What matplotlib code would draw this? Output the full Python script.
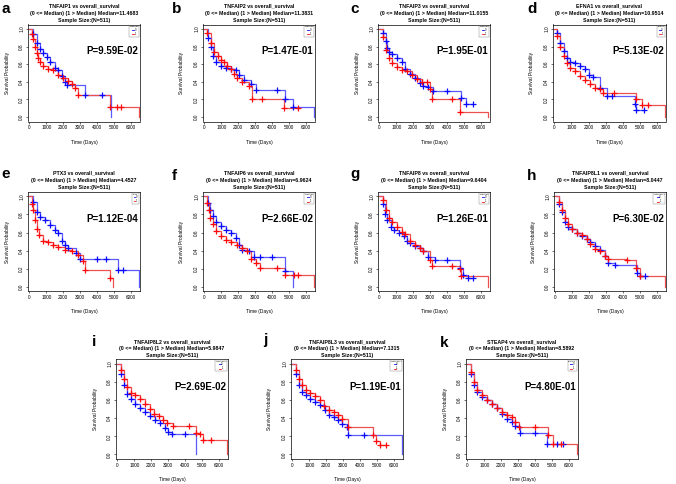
import matplotlib.pyplot as plt
from matplotlib.lines import Line2D

plt.rcParams['font.family'] = ['Liberation Sans', 'DejaVu Sans']

GENES = ['TNFAIP1', 'TNFAIP2', 'TNFAIP3', 'EFNA1', 'PTX3', 'TNFAIP6',
         'TNFAIP8', 'TNFAIP8L1', 'TNFAIP8L2', 'TNFAIP8L3', 'STEAP4']
MEDIANS = ['11.4683', '11.3831', '11.0155', '10.9514', '4.4527', '6.9624',
           '9.6404', '8.0447', '5.9847', '7.1315', '8.5892']
PVALS = ['9.59E-02', '1.47E-01', '1.95E-01', '5.13E-02', '1.12E-04', '2.66E-02',
         '1.26E-01', '6.30E-02', '2.69E-02', '1.19E-01', '4.80E-01']
LETTERS = ['a', 'b', 'c', 'd', 'e', 'f', 'g', 'h', 'i', 'j', 'k']

# group 0 (blue, <= median) and group 1 (red, > median): step times (days) / survival
A_T0 = [0, 235, 430, 630, 820, 1020, 1200, 1500, 1700, 1900, 2100, 2200, 3270, 4300, 4840]
A_S0 = [1.0, 0.94, 0.84, 0.77, 0.73, 0.68, 0.63, 0.56, 0.53, 0.47, 0.40, 0.36, 0.25, 0.25, 0.0]
A_T1 = [0, 140, 235, 330, 430, 530, 630, 820, 1100, 1400, 1700, 2000, 2300, 2500, 2700, 2880, 4750, 5200, 5400, 6470]
A_S1 = [1.0, 0.94, 0.88, 0.80, 0.73, 0.67, 0.63, 0.58, 0.54, 0.53, 0.48, 0.44, 0.41, 0.37, 0.33, 0.25, 0.12, 0.12, 0.12, 0.0]

B_T0 = [0, 200, 390, 500, 700, 975, 1270, 1560, 1850, 2050, 2340, 2730, 3020, 4300, 4775, 5225, 6470]
B_S0 = [1.0, 0.90, 0.79, 0.69, 0.62, 0.58, 0.56, 0.54, 0.53, 0.48, 0.42, 0.37, 0.31, 0.31, 0.20, 0.12, 0.0]
B_T1 = [0, 150, 390, 585, 780, 975, 1170, 1365, 1560, 1755, 1950, 2240, 2630, 2830, 3400, 4680, 5555]
B_S1 = [1.0, 0.95, 0.84, 0.74, 0.69, 0.65, 0.62, 0.58, 0.55, 0.49, 0.44, 0.40, 0.35, 0.21, 0.21, 0.10, 0.10]

C_T0 = [0, 190, 390, 480, 580, 770, 1060, 1350, 1540, 1830, 2120, 2410, 2600, 2900, 3190, 4000, 4830, 5120, 5500]
C_S0 = [1.0, 0.95, 0.86, 0.78, 0.74, 0.71, 0.67, 0.62, 0.55, 0.49, 0.44, 0.39, 0.35, 0.34, 0.30, 0.30, 0.22, 0.15, 0.15]
C_T1 = [0, 190, 390, 580, 770, 1060, 1350, 1640, 1930, 2220, 2510, 2800, 3000, 3090, 4300, 4730, 6430]
C_S1 = [1.0, 0.91, 0.76, 0.67, 0.61, 0.57, 0.53, 0.52, 0.48, 0.43, 0.40, 0.40, 0.32, 0.21, 0.21, 0.06, 0.0]

D_T0 = [0, 150, 350, 540, 730, 930, 1220, 1500, 1800, 2000, 2280, 2660, 3050, 3400, 4700, 4800, 5270]
D_S0 = [1.0, 0.95, 0.84, 0.75, 0.67, 0.63, 0.61, 0.58, 0.54, 0.48, 0.45, 0.33, 0.24, 0.24, 0.15, 0.08, 0.08]
D_T1 = [0, 150, 350, 540, 730, 930, 1220, 1500, 1800, 2080, 2370, 2660, 2860, 3500, 4800, 5100, 5500, 6470]
D_S1 = [1.0, 0.92, 0.80, 0.69, 0.61, 0.56, 0.52, 0.47, 0.42, 0.37, 0.33, 0.32, 0.27, 0.27, 0.20, 0.14, 0.14, 0.0]

E_T0 = [0, 235, 430, 630, 920, 1220, 1510, 1700, 1900, 2100, 2300, 2780, 2980, 4000, 4500, 5240, 5500, 6470]
E_S0 = [1.0, 0.94, 0.83, 0.77, 0.74, 0.68, 0.63, 0.60, 0.51, 0.46, 0.43, 0.37, 0.31, 0.31, 0.31, 0.18, 0.18, 0.0]
E_T1 = [0, 140, 235, 330, 430, 590, 820, 1120, 1410, 1700, 2100, 2490, 2880, 3180, 3270, 4750, 4940]
E_S1 = [1.0, 0.92, 0.85, 0.74, 0.64, 0.57, 0.51, 0.49, 0.46, 0.44, 0.41, 0.39, 0.35, 0.28, 0.18, 0.09, 0.0]

F_T0 = [0, 195, 350, 490, 680, 975, 1270, 1560, 1850, 2050, 2240, 2630, 2920, 3300, 4000, 4775, 5225]
F_S0 = [1.0, 0.93, 0.85, 0.78, 0.72, 0.67, 0.63, 0.60, 0.54, 0.46, 0.41, 0.39, 0.33, 0.33, 0.33, 0.17, 0.0]
F_T1 = [0, 155, 250, 350, 490, 680, 975, 1270, 1560, 1950, 2240, 2530, 2730, 3020, 3310, 4300, 4775, 5300, 5500, 6470]
F_S1 = [1.0, 0.93, 0.85, 0.76, 0.69, 0.62, 0.56, 0.52, 0.50, 0.46, 0.43, 0.39, 0.31, 0.26, 0.21, 0.21, 0.13, 0.13, 0.13, 0.0]

G_T0 = [0, 190, 350, 480, 680, 870, 1160, 1450, 1640, 1830, 2120, 2410, 2600, 2900, 3300, 4000, 4730, 4920, 5210, 5500]
G_S0 = [1.0, 0.92, 0.81, 0.74, 0.66, 0.63, 0.59, 0.56, 0.51, 0.48, 0.45, 0.43, 0.39, 0.33, 0.29, 0.29, 0.21, 0.13, 0.10, 0.10]
G_T1 = [0, 190, 390, 580, 770, 1060, 1350, 1540, 1830, 2120, 2410, 2600, 2990, 3090, 4300, 4730, 4830, 6430]
G_S1 = [1.0, 0.96, 0.85, 0.76, 0.72, 0.66, 0.61, 0.58, 0.51, 0.46, 0.43, 0.40, 0.29, 0.23, 0.23, 0.20, 0.12, 0.0]

H_T0 = [0, 190, 390, 580, 770, 970, 1260, 1550, 1840, 2030, 2330, 2620, 2910, 3100, 3500, 4830, 5020, 5310]
H_S0 = [1.0, 0.92, 0.83, 0.72, 0.66, 0.64, 0.60, 0.56, 0.53, 0.49, 0.45, 0.41, 0.34, 0.26, 0.24, 0.15, 0.12, 0.12]
H_T1 = [0, 190, 390, 580, 770, 970, 1260, 1550, 1840, 2030, 2330, 2620, 2910, 3100, 4200, 4730, 5020, 6450]
H_S1 = [1.0, 0.94, 0.85, 0.76, 0.70, 0.64, 0.60, 0.57, 0.53, 0.47, 0.42, 0.40, 0.34, 0.31, 0.29, 0.21, 0.12, 0.0]

I_T0 = [0, 195, 390, 580, 780, 1070, 1360, 1650, 1940, 2230, 2520, 2820, 3010, 3200, 4000, 4660]
I_S0 = [1.0, 0.89, 0.76, 0.66, 0.61, 0.55, 0.51, 0.47, 0.42, 0.38, 0.35, 0.29, 0.25, 0.22, 0.22, 0.0]
I_T1 = [0, 195, 390, 580, 780, 1070, 1360, 1650, 1940, 2140, 2430, 2720, 2910, 3300, 4250, 4660, 4850, 5050, 5500, 6470]
I_S1 = [1.0, 0.93, 0.83, 0.74, 0.68, 0.65, 0.61, 0.56, 0.50, 0.45, 0.42, 0.38, 0.35, 0.31, 0.31, 0.24, 0.22, 0.16, 0.16, 0.0]

J_T0 = [0, 195, 390, 580, 780, 1070, 1360, 1650, 1940, 2135, 2430, 2720, 2910, 3200, 3300, 4250, 6470]
J_S0 = [1.0, 0.89, 0.76, 0.69, 0.65, 0.61, 0.58, 0.54, 0.49, 0.43, 0.41, 0.38, 0.34, 0.30, 0.21, 0.21, 0.0]
J_T1 = [0, 195, 390, 580, 780, 1070, 1360, 1650, 1845, 2135, 2430, 2720, 2910, 3300, 4760, 4950, 5150, 5530]
J_S1 = [1.0, 0.93, 0.83, 0.76, 0.71, 0.68, 0.64, 0.60, 0.53, 0.49, 0.47, 0.43, 0.39, 0.30, 0.21, 0.15, 0.10, 0.10]

K_T0 = [0, 195, 390, 585, 877, 1170, 1460, 1755, 2045, 2340, 2630, 2830, 3120, 4000, 4680, 5300, 5650]
K_S0 = [1.0, 0.89, 0.76, 0.69, 0.63, 0.60, 0.55, 0.51, 0.44, 0.39, 0.36, 0.31, 0.24, 0.24, 0.12, 0.12, 0.12]
K_T1 = [0, 195, 390, 585, 877, 1170, 1460, 1755, 2045, 2340, 2630, 2830, 3020, 4000, 4775, 5070, 5500, 6470]
K_S1 = [1.0, 0.91, 0.80, 0.71, 0.65, 0.60, 0.56, 0.51, 0.47, 0.43, 0.41, 0.36, 0.30, 0.30, 0.21, 0.12, 0.12, 0.0]

CURVES = [(A_T0, A_S0, A_T1, A_S1), (B_T0, B_S0, B_T1, B_S1), (C_T0, C_S0, C_T1, C_S1),
          (D_T0, D_S0, D_T1, D_S1), (E_T0, E_S0, E_T1, E_S1), (F_T0, F_S0, F_T1, F_S1),
          (G_T0, G_S0, G_T1, G_S1), (H_T0, H_S0, H_T1, H_S1), (I_T0, I_S0, I_T1, I_S1),
          (J_T0, J_S0, J_T1, J_S1), (K_T0, K_S0, K_T1, K_S1)]

# layout in pixels: axes left, top, width, height
BOXES = [(28, 24.5, 112, 97), (203, 24.5, 112, 97), (378, 24.5, 112, 97), (553, 24.5, 113, 97),
         (28, 192, 112, 99), (203, 192, 112, 99), (378, 192, 112, 99), (554, 192, 112, 99),
         (116, 359, 112, 100), (291, 359, 112, 100), (466, 359, 112, 100)]
LETTER_POS = [(1, 13), (172, 13), (350, 13), (527, 13),
              (1, 178), (172, 180), (350, 178), (527, 180),
              (92, 346), (263, 344), (440, 347)]
TITLE_OFF = [-19, -11.5, -4]

BLUE = '#0a0aff'
RED = '#ff0a0a'
BLUE_LINE = '#5a5aff'
RED_LINE = '#ee5050'

W, H = 676, 484
fig = plt.figure(figsize=(W / 100, H / 100), dpi=100)


def ftext(x, y, s, **kw):
    fig.text(x / W, 1 - y / H, s, **kw)


def draw_curve(ax, t, s, lcolor, mcolor):
    ax.step(t, s, where='post', color=lcolor, lw=0.9, zorder=2)
    mt = [t[i] for i in range(1, len(t)) if s[i] > 0]
    ms = [s[i] for i in range(1, len(t)) if s[i] > 0]
    ax.plot(mt, ms, '+', color=mcolor, ms=4, mew=0.9, zorder=3)


for k in range(11):
    left, top, w, h = BOXES[k]
    ax = fig.add_axes([left / W, 1 - (top + h) / H, w / W, h / H])
    t0, s0, t1, s1 = CURVES[k]
    draw_curve(ax, t0, s0, BLUE_LINE, BLUE)
    draw_curve(ax, t1, s1, RED_LINE, RED)

    ax.set_xlim(-80, 6530)
    ax.set_ylim(-0.05, 1.05)
    ax.set_xticks(range(0, 7000, 1000))
    ax.set_xticklabels([str(v) for v in range(0, 7000, 1000)])
    ax.set_yticks([0, 0.2, 0.4, 0.6, 0.8, 1.0])
    ax.set_yticklabels(['0.0', '0.2', '0.4', '0.6', '0.8', '1.0'], rotation=90, va='center')
    ax.tick_params(labelsize=3.4, length=1.6, width=0.4, pad=1.2)
    for sp in ax.spines.values():
        sp.set_linewidth(0.5)

    ax.text(0.985, 0.745, 'P=' + PVALS[k], transform=ax.get_yaxis_transform(),
            ha='right', va='center', fontsize=7, fontweight='bold')

    handles = [Line2D([0], [0], color=BLUE, lw=0.6), Line2D([0], [0], color=RED, lw=0.6)]
    leg = ax.legend(handles, ['0', '1'], title=GENES[k], loc='upper right', fontsize=1.8,
                    title_fontsize=1.5, borderpad=0.3, handlelength=0.6, handletextpad=0.3,
                    labelspacing=0.1, fancybox=False, edgecolor='0.5', framealpha=1,
                    borderaxespad=0.4)
    leg.get_frame().set_linewidth(0.3)

    cx = left + w / 2
    off = TITLE_OFF if k < 8 else [-17.5, -10.5, -3]
    ftext(cx, top + off[0], GENES[k] + ' vs overall_survival', ha='center', va='center',
          fontsize=3.8, fontweight='bold')
    ftext(cx, top + off[1], '(0 <= Median) (1 > Median) Median=' + MEDIANS[k], ha='center',
          va='center', fontsize=3.8, fontweight='bold')
    ftext(cx, top + off[2], 'Sample Size:(N=511)', ha='center', va='center',
          fontsize=3.8, fontweight='bold')

    ftext(left - 21, top + h / 2, 'Survival Probability', rotation=90, ha='center',
          va='center', fontsize=3.5)
    ftext(cx, top + h + 21, 'Time (Days)', ha='center', va='center', fontsize=3.5)

    lx, ly = LETTER_POS[k]
    ftext(lx, ly, LETTERS[k], ha='left', va='baseline', fontsize=11, fontweight='bold')

fig.savefig('out.png', dpi=100)
